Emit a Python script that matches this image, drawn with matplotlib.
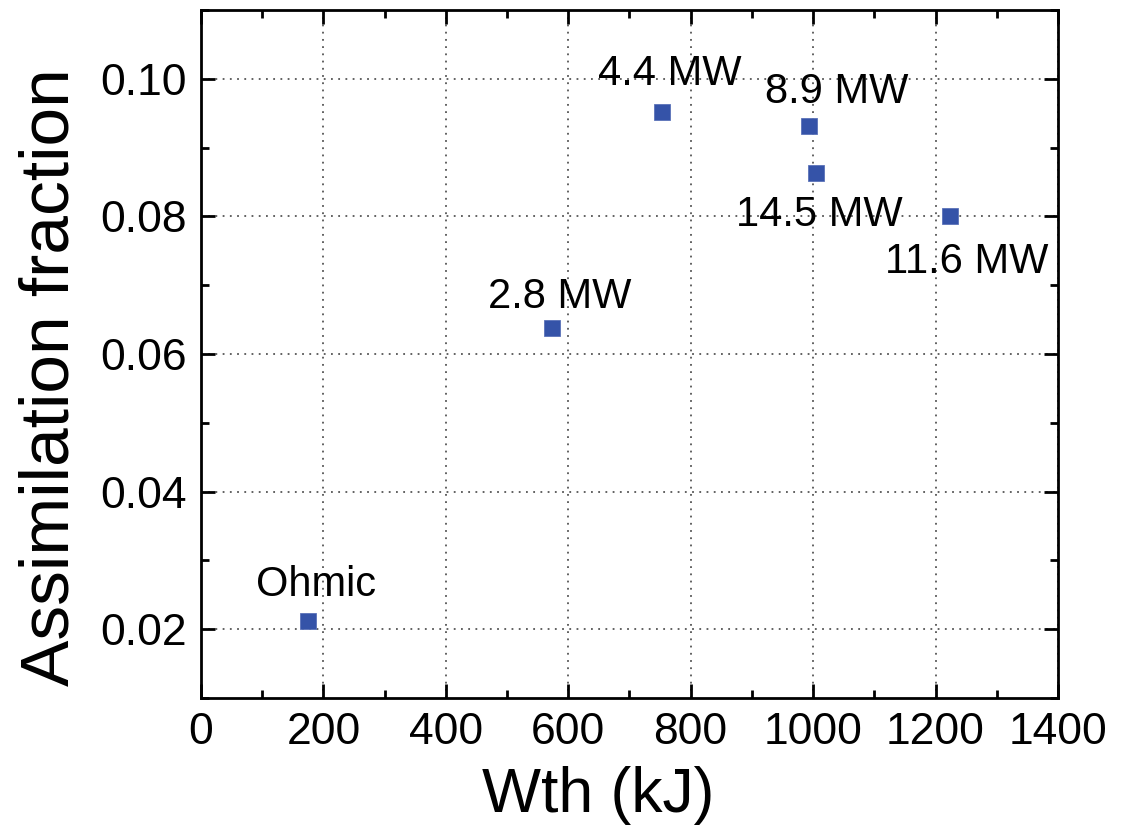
import numpy as np
import matplotlib
matplotlib.use('Agg')
import matplotlib.pyplot as plt
from matplotlib.ticker import MultipleLocator

# data
wth = [175, 573, 753, 994, 1004, 1224]
frac = [0.0212, 0.0638, 0.0952, 0.0931, 0.0863, 0.0800]
labels = ['Ohmic', '2.8 MW', '4.4 MW', '8.9 MW', '14.5 MW', '11.6 MW']
# label offsets in points (dx, dy) relative to each marker
offsets = [(6, 26), (6, 22), (6, 27), (20, 25), (3, -30), (12, -33)]


def main():
    plt.rcParams['font.family'] = ['Liberation Sans', 'DejaVu Sans']
    fig = plt.figure(figsize=(11.22, 8.36), dpi=100)
    ax = fig.add_axes([0.1791, 0.165, 0.7638, 0.823])

    ax.plot(wth, frac, 's', color='#3553a8', markersize=12,
            markeredgecolor='#5a72b8', markeredgewidth=0.6, zorder=3)

    for x, y, t, (dx, dy) in zip(wth, frac, labels, offsets):
        ax.annotate(t, (x, y), xytext=(dx, dy), textcoords='offset points',
                    ha='center', va='center', fontsize=30)

    ax.set_xlim(0, 1400)
    ax.set_ylim(0.01, 0.11)
    ax.xaxis.set_major_locator(MultipleLocator(200))
    ax.xaxis.set_minor_locator(MultipleLocator(100))
    ax.yaxis.set_major_locator(MultipleLocator(0.02))
    ax.yaxis.set_minor_locator(MultipleLocator(0.01))
    ax.yaxis.set_major_formatter(plt.FormatStrFormatter('%.2f'))

    ax.grid(True, which='major', linestyle=(0, (1, 3)), color='#555555',
            linewidth=1.3)
    ax.tick_params(which='both', direction='in', top=True, right=True,
                   width=2, labelsize=32)
    ax.tick_params(which='major', length=10, pad=10)
    ax.tick_params(which='minor', length=6)
    for s in ax.spines.values():
        s.set_linewidth(2)

    ax.set_xlabel('Wth (kJ)', fontsize=45)
    ax.xaxis.set_label_coords(0.464, -0.099)
    ax.set_ylabel('Assimilation fraction', fontsize=50)
    ax.yaxis.set_label_coords(-0.138, 0.467)

    fig.savefig('out.png', dpi=100)


if __name__ == '__main__':
    main()
